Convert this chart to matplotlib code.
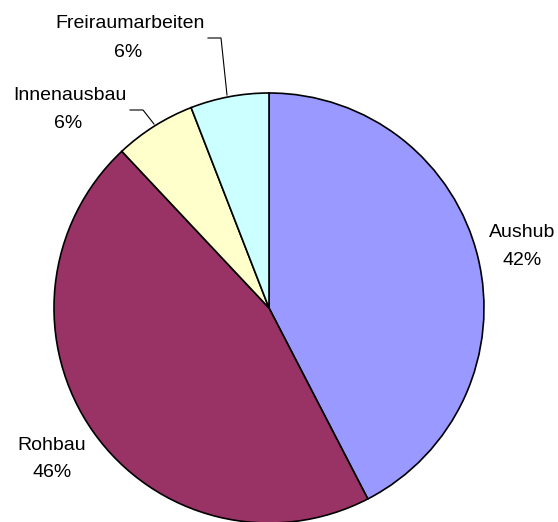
import matplotlib
matplotlib.use("Agg")
import matplotlib.pyplot as plt
import numpy as np

categories = ["Aushub", "Rohbau", "Innenausbau", "Freiraumarbeiten"]
values = [42.4, 45.6, 6.1, 5.9]
colors = ["#9999FF", "#993366", "#FFFFCC", "#CCFFFF"]

W, H = 558, 522
fig = plt.figure(figsize=(W / 100, H / 100), dpi=100)
ax = fig.add_axes([0, 0, 1, 1])
ax.set_xlim(0, W)
ax.set_ylim(0, H)
ax.set_aspect("equal")
ax.axis("off")

cx, cy, r = 269, H - 308, 215
wedges, _ = ax.pie(values, colors=colors, startangle=90, counterclock=False,
                   center=(cx, cy), radius=r,
                   wedgeprops=dict(edgecolor="black", linewidth=1.2))
ax.set_xlim(0, W)
ax.set_ylim(0, H)

total = sum(values)
pct = [f"{round(v / total * 100)}%" for v in values]
font = dict(family=["Liberation Sans", "DejaVu Sans"], fontsize=14, color="black",
            ha="center", va="baseline")

# label anchors: (center x, baseline of name, center x of pct, baseline of pct), top-left origin
label_pos = [(522, 237, 522, 265), (52, 450, 52, 477), (70, 100, 68, 128), (130, 28, 128, 57)]
for name, p, (x1, y1, x2, y2) in zip(categories, pct, label_pos):
    ax.text(x1, H - y1, name, **font)
    ax.text(x2, H - y2, p, **font)

# leader lines
ax.plot([208, 221, 227], [H - 38, H - 38, H - 95], color="black", lw=0.8)
ax.plot([130, 143, 154], [H - 110, H - 110, H - 124], color="black", lw=0.8)

fig.savefig("out.png", dpi=100)
